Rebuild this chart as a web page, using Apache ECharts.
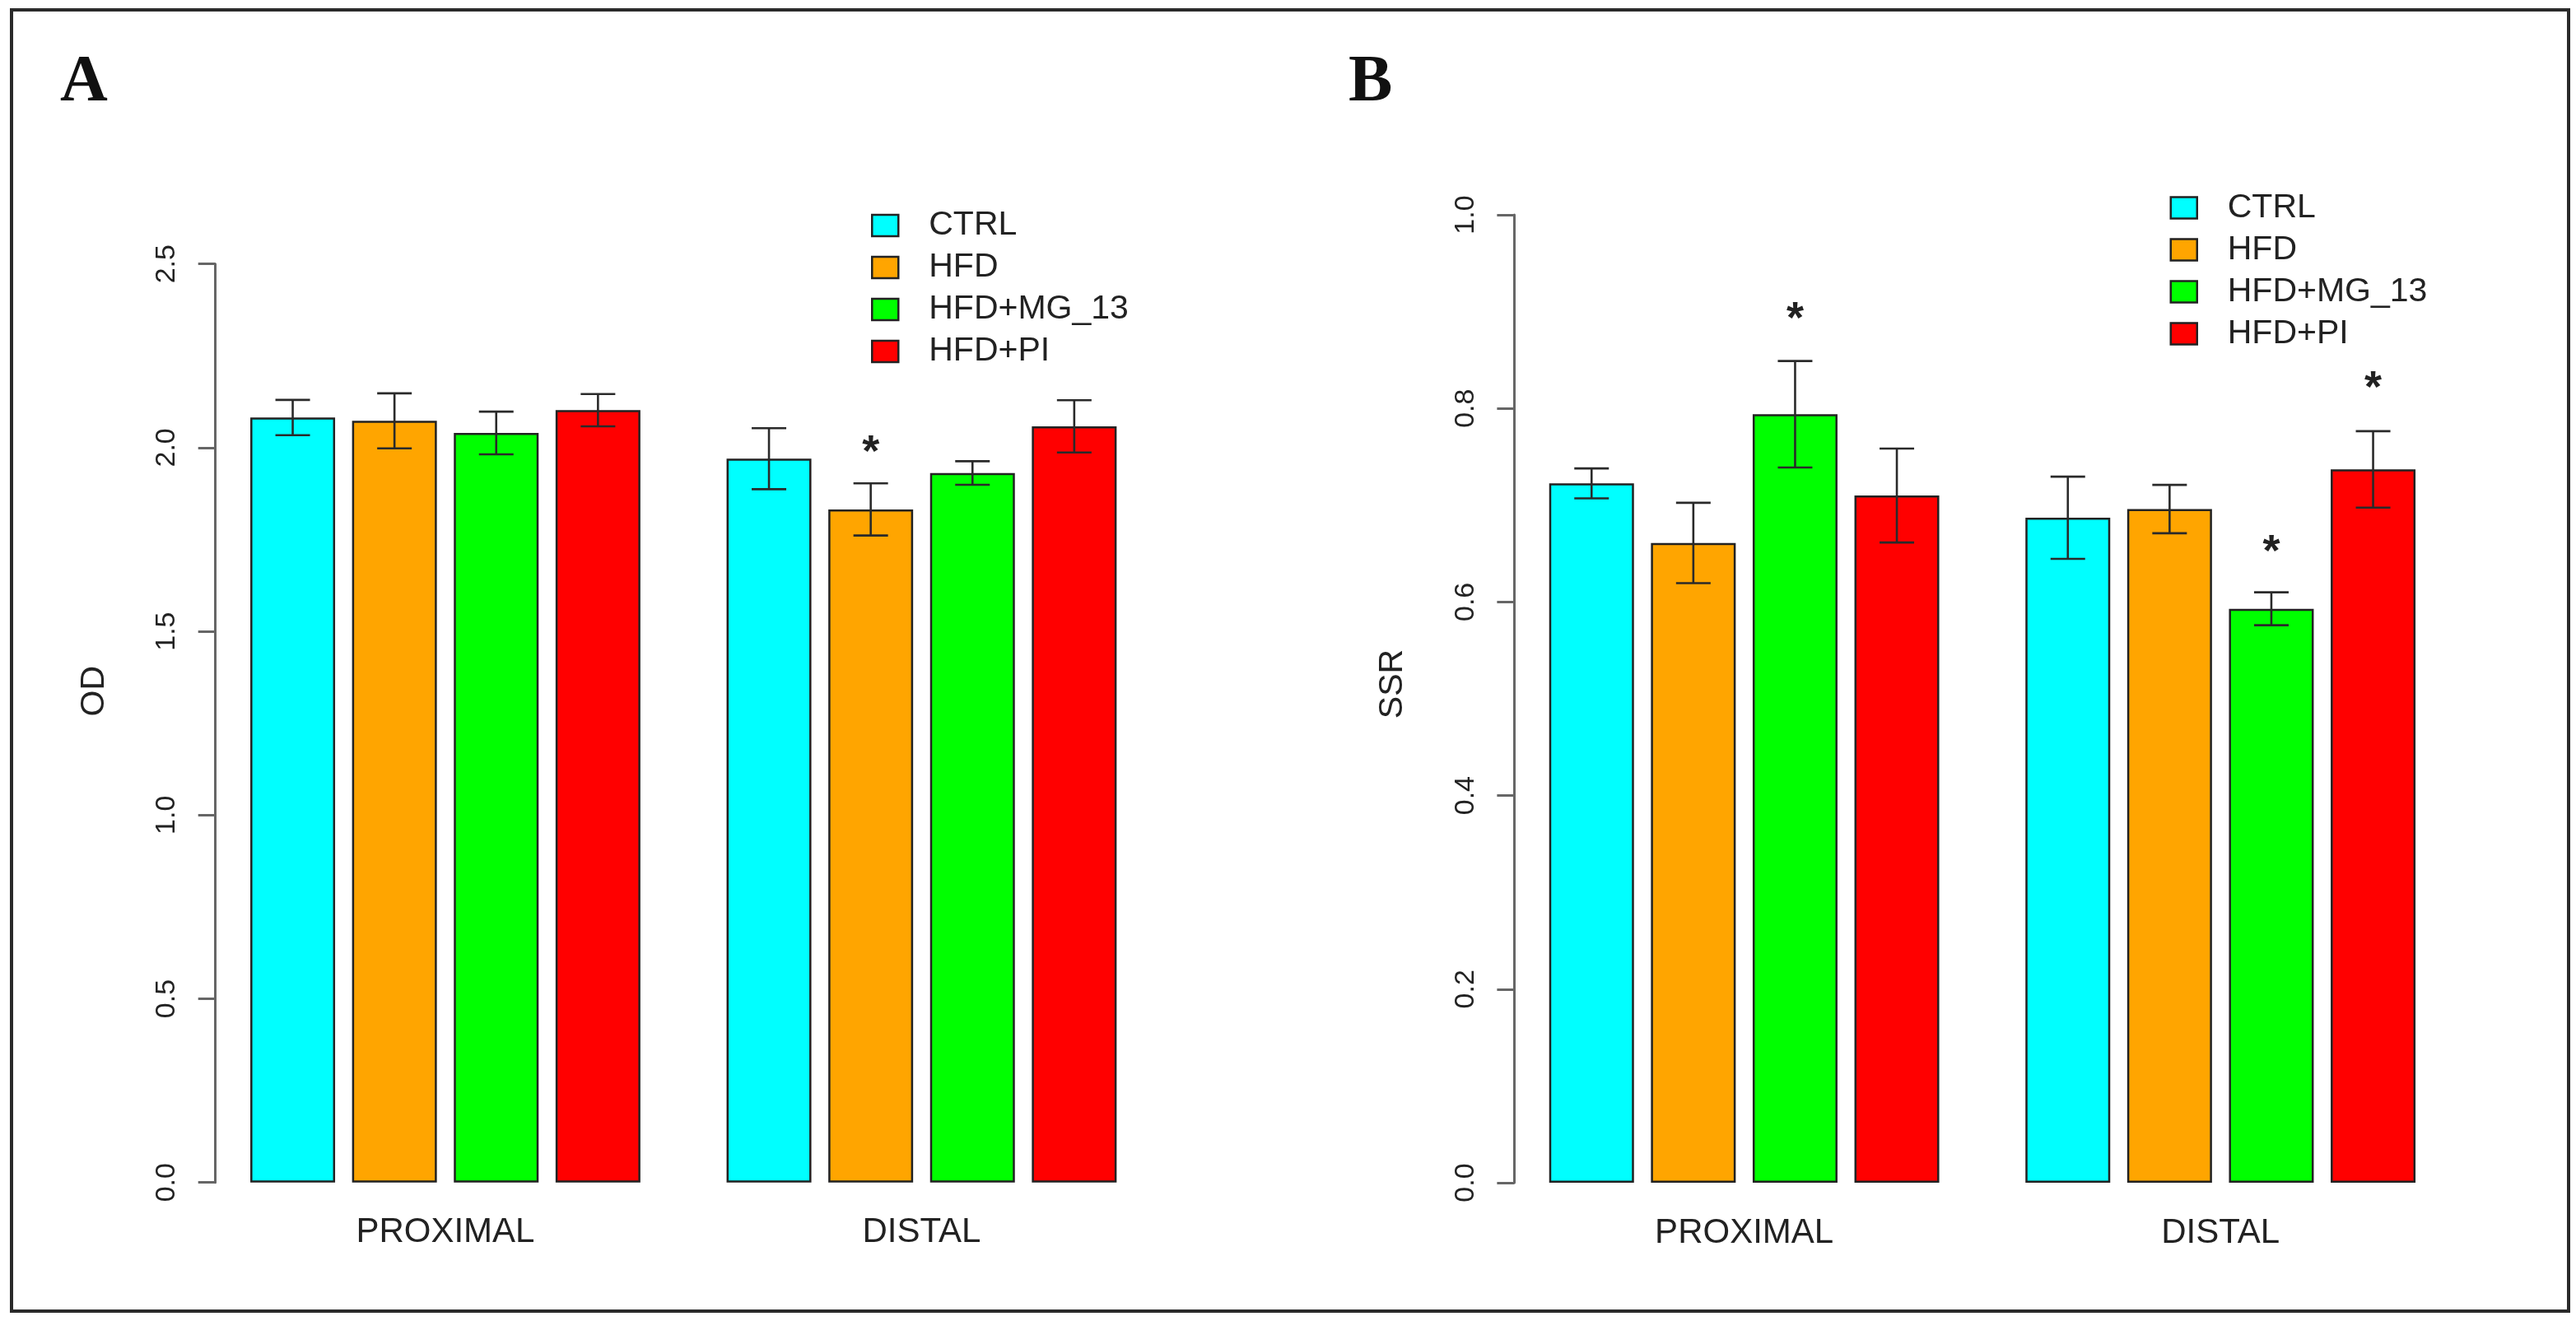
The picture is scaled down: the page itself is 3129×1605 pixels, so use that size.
<!DOCTYPE html>
<html>
<head>
<meta charset="utf-8">
<script src="https://cdn.jsdelivr.net/npm/echarts@6/dist/echarts.min.js"></script>
<style>
html,body{margin:0;padding:0;background:#fff;}
#chart{width:3129px;height:1605px;}
</style>
</head>
<body>
<div id="chart"></div>
<script>
// ---- data ----
const categories = ['PROXIMAL', 'DISTAL'];
const groups = ['CTRL', 'HFD', 'HFD+MG_13', 'HFD+PI'];
const groupColors = ['#00FFFF', '#FFA500', '#00FF00', '#FF0000'];

// Panel A: OD (mean, error)
const odCtrl = [2.082, 1.970];
const odHfd  = [2.073, 1.832];
const odMg   = [2.040, 1.931];
const odPi   = [2.102, 2.058];
const odCtrlErr = [0.048, 0.083];
const odHfdErr  = [0.075, 0.071];
const odMgErr   = [0.058, 0.032];
const odPiErr   = [0.044, 0.071];
const odTicks = [0, 2.5, 0.5];
// significance marks: [category index, group index, y]
const odStars = [[1, 1, 1.996]];

// Panel B: SSR (mean, error)
const ssrCtrl = [0.7225, 0.687];
const ssrHfd  = [0.661, 0.696];
const ssrMg   = [0.794, 0.593];
const ssrPi   = [0.710, 0.737];
const ssrCtrlErr = [0.0155, 0.0425];
const ssrHfdErr  = [0.0415, 0.025];
const ssrMgErr   = [0.055, 0.017];
const ssrPiErr   = [0.0485, 0.0395];
const ssrTicks = [0, 1.0, 0.2];
const ssrStars = [[0, 2, 0.895], [1, 2, 0.655], [1, 3, 0.824]];

// ---- styling ----
const FONT = '"Liberation Sans", Arial, sans-serif';
const TXT = '#222';
const BAR_W = 103;
const CAP = 21;

const chart = echarts.init(document.getElementById('chart'), null, {renderer: 'canvas'});

function errData(means, errs) {
  const out = [];
  means.forEach((m, g) => m.forEach((v, c) => out.push([c, g, v, errs[g][c]])));
  return out;
}
function renderErr(params, api) {
  const cat = api.value(0), g = api.value(1), m = api.value(2), e = api.value(3);
  const c = api.coord([cat, m]);
  const x = c[0] + (g - 1.5) * BAR_W * 1.2;
  const yHi = api.coord([cat, m + e])[1];
  const yLo = api.coord([cat, m - e])[1];
  const st = {stroke: '#2a2a2a', lineWidth: 2.6};
  return {type: 'group', children: [
    {type: 'line', shape: {x1: x, y1: yHi, x2: x, y2: yLo}, style: st},
    {type: 'line', shape: {x1: x - CAP, y1: yHi, x2: x + CAP, y2: yHi}, style: st},
    {type: 'line', shape: {x1: x - CAP, y1: yLo, x2: x + CAP, y2: yLo}, style: st}
  ]};
}
function renderStar(params, api) {
  const cat = api.value(0), g = api.value(1), y = api.value(2);
  const c = api.coord([cat, y]);
  const x = c[0] + (g - 1.5) * BAR_W * 1.2;
  return {type: 'text', x: x, y: c[1] + 5, style: {
    text: '*', fill: TXT, font: 'bold 54px ' + FONT,
    align: 'center', verticalAlign: 'middle'
  }};
}

function barSeries(vals, idx) {
  return vals.map((v, i) => ({
    type: 'bar', name: groups[i], xAxisIndex: idx, yAxisIndex: idx,
    data: v, barWidth: BAR_W, barGap: '20%',
    itemStyle: {color: groupColors[i], borderColor: '#222', borderWidth: 2.5},
    emphasis: {disabled: true}
  }));
}

function yAxisCfg(idx, ticks, name, shift) {
  return {
    type: 'value', gridIndex: idx, min: ticks[0], max: ticks[1], interval: ticks[2],
    offset: -10, name: name, nameLocation: 'middle', nameGap: 127,
    nameTextStyle: {fontSize: 41, lineHeight: 41, color: TXT, fontFamily: FONT,
      padding: [0, 0, 0, shift]},
    axisLine: {show: true, lineStyle: {color: '#666', width: 3}},
    axisTick: {show: true, length: 21, lineStyle: {color: '#666', width: 3}},
    axisLabel: {rotate: 90, margin: 42, fontSize: 34, lineHeight: 34, color: TXT,
      fontFamily: FONT, formatter: v => v.toFixed(1)},
    splitLine: {show: false}
  };
}
function xAxisCfg(idx) {
  return {
    type: 'category', gridIndex: idx, data: categories,
    axisLine: {show: false}, axisTick: {show: false},
    axisLabel: {fontSize: 42, lineHeight: 42, margin: 40, color: TXT, fontFamily: FONT}
  };
}
function legendCfg(left, top) {
  return {
    data: groups, orient: 'vertical', left: left, top: top, padding: 0,
    itemWidth: 32, itemHeight: 26, itemGap: 10, icon: 'rect', selectedMode: false,
    itemStyle: {borderColor: '#222', borderWidth: 2.5},
    textStyle: {fontSize: 41, lineHeight: 41, color: TXT, fontFamily: FONT, padding: [0, 0, 0, 32]}
  };
}

const option = {
  animation: false,
  backgroundColor: '#fff',
  textStyle: {fontFamily: FONT},
  grid: [
    {left: 251.7, top: 320.7, width: 1157, height: 1116},
    {left: 1829.4, top: 261, width: 1157, height: 1176}
  ],
  xAxis: [xAxisCfg(0), xAxisCfg(1)],
  yAxis: [yAxisCfg(0, odTicks, 'OD', 78), yAxisCfg(1, ssrTicks, 'SSR', 36)],
  legend: [legendCfg(1058, 253.5), legendCfg(2635.5, 232)],
  series: [
    ...barSeries([odCtrl, odHfd, odMg, odPi], 0),
    ...barSeries([ssrCtrl, ssrHfd, ssrMg, ssrPi], 1),
    {type: 'custom', name: 'errA', xAxisIndex: 0, yAxisIndex: 0, z: 5,
      renderItem: renderErr, encode: {x: 0, y: 2},
      data: errData([odCtrl, odHfd, odMg, odPi], [odCtrlErr, odHfdErr, odMgErr, odPiErr])},
    {type: 'custom', name: 'errB', xAxisIndex: 1, yAxisIndex: 1, z: 5,
      renderItem: renderErr, encode: {x: 0, y: 2},
      data: errData([ssrCtrl, ssrHfd, ssrMg, ssrPi], [ssrCtrlErr, ssrHfdErr, ssrMgErr, ssrPiErr])},
    {type: 'custom', name: 'starA', xAxisIndex: 0, yAxisIndex: 0, z: 6,
      renderItem: renderStar, encode: {x: 0, y: 2}, data: odStars},
    {type: 'custom', name: 'starB', xAxisIndex: 1, yAxisIndex: 1, z: 6,
      renderItem: renderStar, encode: {x: 0, y: 2}, data: ssrStars}
  ],
  graphic: [
    {type: 'rect', shape: {x: 14, y: 12, width: 3106, height: 1581},
      style: {fill: 'none', stroke: '#2a2a2a', lineWidth: 4}, silent: true},
    {type: 'text', x: 73, y: 101, style: {text: 'A', fill: '#111',
      font: 'bold 80px "Liberation Serif", "Times New Roman", serif', align: 'left', verticalAlign: 'middle'}},
    {type: 'text', x: 1638, y: 101, style: {text: 'B', fill: '#111',
      font: 'bold 80px "Liberation Serif", "Times New Roman", serif', align: 'left', verticalAlign: 'middle'}}
  ]
};
chart.setOption(option);
</script>
</body>
</html>
